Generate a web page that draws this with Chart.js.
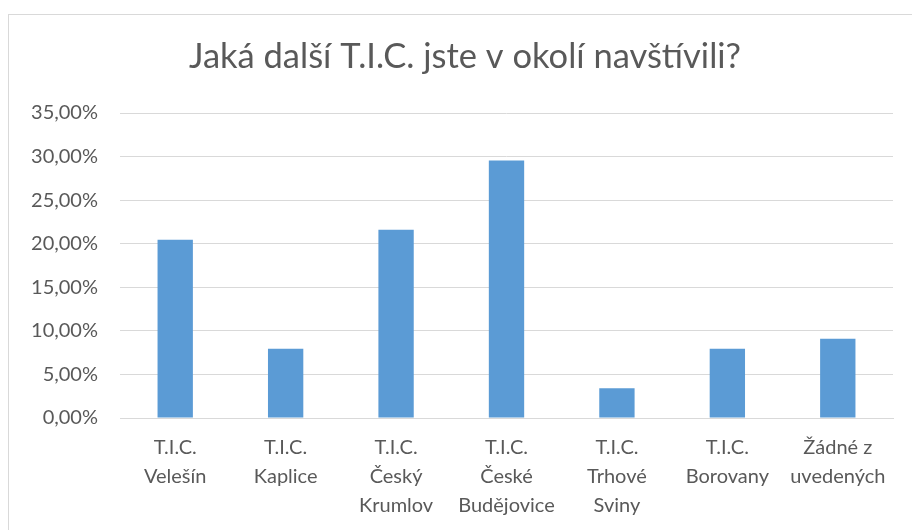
<!DOCTYPE html>
<html>
<head>
<meta charset="utf-8">
<script src="https://cdn.jsdelivr.net/npm/chart.js@4"></script>
<style>
    html, body { margin: 0; padding: 0; background: #fff; overflow: hidden; }
    #frame {
        position: absolute; left: 8px; top: 14px;
        width: 914px; height: 530px;
        border: 1px solid #d9d9d9; box-sizing: border-box;
    }
    #chartBox { position: absolute; left: 8px; top: 14px; width: 914px; height: 516px; }
</style>
</head>
<body>
<div id="frame"></div>
<div id="chartBox"><canvas id="ticChart"></canvas></div>

<script>
    const titleText = "Jaká další T.I.C. jste v okolí navštívili?"
    const categories = [
        ["T.I.C.", "Velešín"],
        ["T.I.C.", "Kaplice"],
        ["T.I.C.", "Český", "Krumlov"],
        ["T.I.C.", "České", "Budějovice"],
        ["T.I.C.", "Trhové", "Sviny"],
        ["T.I.C.", "Borovany"],
        ["Žádné z", "uvedených"]
    ]
    const shares = [20.45, 7.95, 21.59, 29.55, 3.41, 7.95, 9.09]
    const yMin = 0
    const yMax = 35
    const yStep = 5

    const textColor = "#595959"
    const gridColor = "#d9d9d9"
    const barColor = "#5b9bd5"
    const fontFamily = "Lato, 'Open Sans', sans-serif"

    const fmtPercent = (v) => v.toFixed(2).replace(".", ",") + "%"

    // the built-in title centres between the paddings, Excel centres it on the whole frame
    const frameTitle = {
        id: "frameTitle",
        afterDraw(chart) {
            const ctx = chart.ctx
            ctx.save()
            ctx.fillStyle = textColor
            ctx.font = "34.5px " + fontFamily
            ctx.textAlign = "center"
            ctx.textBaseline = "middle"
            ctx.fillText(titleText, chart.width / 2, 43)
            ctx.restore()
        }
    }

    new Chart(ticChart, {
        type: "bar",
        data: {
            labels: categories,
            datasets: [{
                label: "Podíl",
                data: shares,
                backgroundColor: barColor,
                borderWidth: 0,
                categoryPercentage: 1,
                barPercentage: 0.32
            }]
        },
        plugins: [frameTitle],
        options: {
            responsive: true,
            maintainAspectRatio: false,
            animation: false,
            layout: { padding: { left: 0, right: 29, top: 99, bottom: 0 } },
            plugins: {
                legend: { display: false },
                tooltip: { enabled: false },
                title: { display: false }
            },
            scales: {
                x: {
                    grid: { display: false, drawTicks: false },
                    border: { display: true, color: gridColor, width: 1 },
                    ticks: {
                        color: textColor,
                        font: { family: fontFamily, size: 20, lineHeight: 1.45 },
                        maxRotation: 0,
                        autoSkip: false,
                        padding: 15
                    },
                    afterFit: (scale) => { scale.height = 112 }
                },
                y: {
                    min: yMin,
                    max: yMax,
                    grid: { color: gridColor, drawTicks: false },
                    border: { display: false },
                    ticks: {
                        stepSize: yStep,
                        color: textColor,
                        font: { family: fontFamily, size: 20 },
                        padding: 22,
                        callback: (v) => fmtPercent(v)
                    },
                    afterFit: (scale) => { scale.width = 112 }
                }
            }
        }
    })
</script>
</body>
</html>
